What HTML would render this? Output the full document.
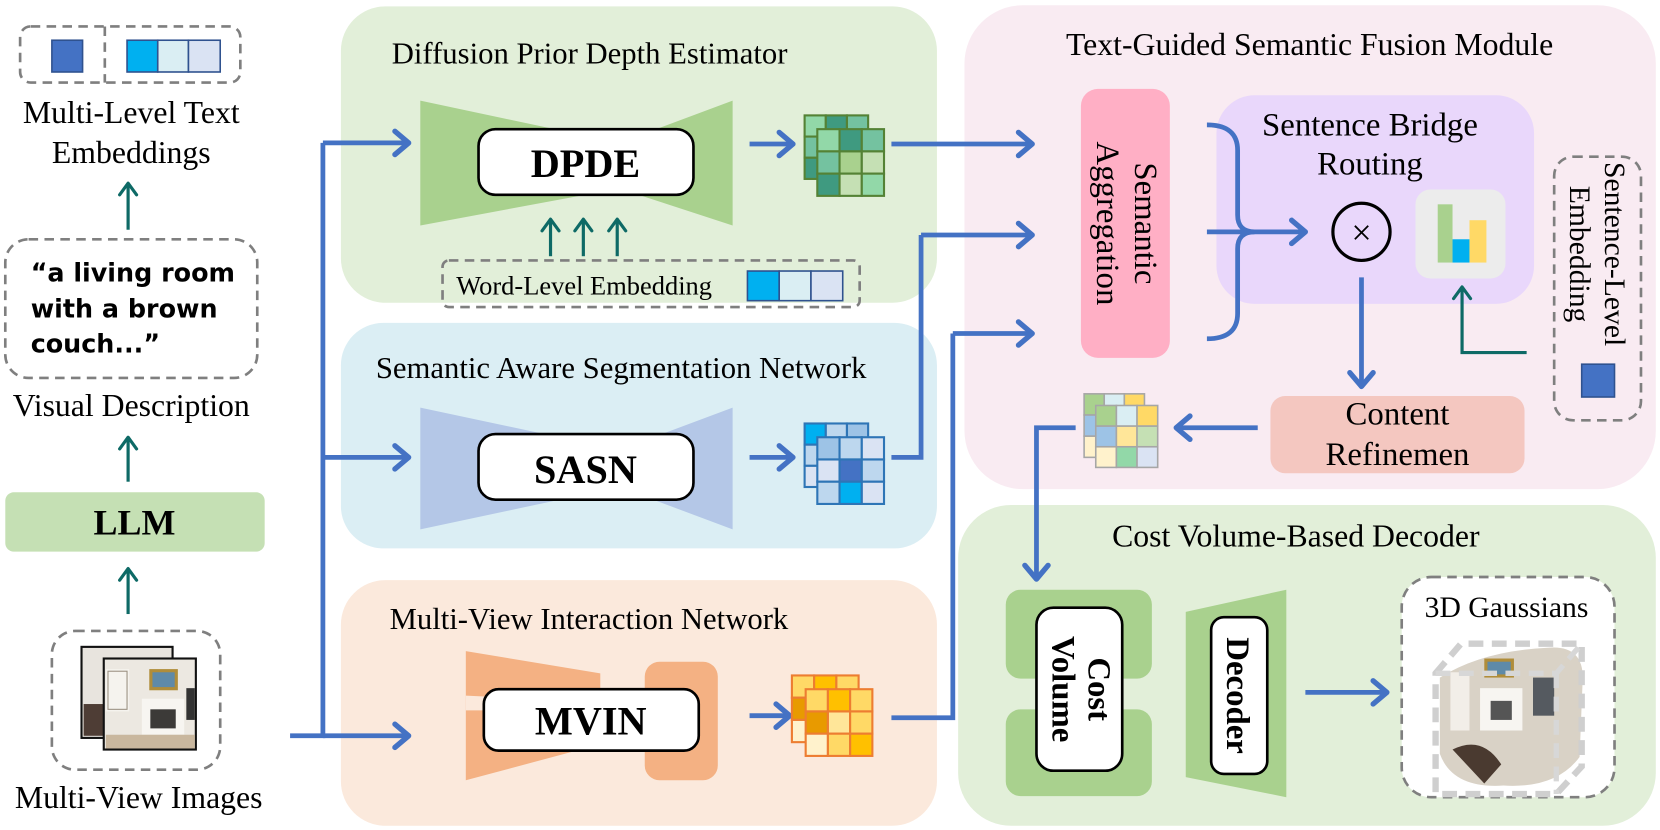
<!DOCTYPE html>
<html><head><meta charset="utf-8"><style>
html,body{margin:0;padding:0;background:#fff}
svg{display:block}
text{font-family:"Liberation Serif","Times New Roman",serif;fill:#000}
.h{font-family:"DejaVu Sans","Liberation Sans",sans-serif;font-weight:bold}
</style></head><body>
<svg width="1660" height="830" viewBox="0 0 1660 830" xmlns="http://www.w3.org/2000/svg">
<defs>
<marker id="ab" refX="0" refY="0" markerWidth="30" markerHeight="30" orient="auto" markerUnits="userSpaceOnUse" overflow="visible">
<path d="M-12,-11 L1,0 L-12,11" fill="none" stroke="#4472c4" stroke-width="5" stroke-linecap="round" stroke-linejoin="round"/>
</marker>
<marker id="at" refX="0" refY="0" markerWidth="30" markerHeight="30" orient="auto" markerUnits="userSpaceOnUse" overflow="visible">
<path d="M-10,-8 L1,0 L-10,8" fill="none" stroke="#0e6a66" stroke-width="3" stroke-linecap="round" stroke-linejoin="round"/>
</marker>
</defs>
<g transform="scale(1.0587)">

<!-- panels -->
<rect x="322" y="6" width="563" height="280" rx="42" fill="#e2efd9"/>
<rect x="322" y="305" width="563" height="213" rx="40" fill="#dbeef4"/>
<rect x="322" y="548" width="563" height="232" rx="42" fill="#fbe9dc"/>
<rect x="911" y="5" width="653" height="457" rx="55" fill="#f9ebf2"/>
<rect x="905" y="477" width="659" height="303" rx="50" fill="#e2efd9"/>

<text x="370" y="60" font-size="29">Diffusion Prior Depth Estimator</text>
<text x="355" y="357" font-size="29">Semantic Aware Segmentation Network</text>
<text x="368" y="594" font-size="29">Multi-View Interaction Network</text>
<text x="1237" y="52" font-size="30" text-anchor="middle">Text-Guided Semantic Fusion Module</text>
<text x="1224" y="516" font-size="30" text-anchor="middle">Cost Volume-Based Decoder</text>

<!-- left column -->
<rect x="19" y="25" width="208" height="53" rx="10" fill="none" stroke="#7f7f7f" stroke-width="2.5" stroke-dasharray="9,6"/>
<line x1="99" y1="25" x2="99" y2="78" stroke="#7f7f7f" stroke-width="2.5" stroke-dasharray="9,6"/>
<rect x="49" y="38" width="29" height="30" fill="#4472c4" stroke="#2f528f" stroke-width="1.5"/>
<rect x="120" y="38" width="29" height="30" fill="#00b0f0" stroke="#2f528f" stroke-width="1.5"/>
<rect x="149" y="38" width="29" height="30" fill="#daeef3" stroke="#2f528f" stroke-width="1.5"/>
<rect x="178" y="38" width="30" height="30" fill="#dae3f3" stroke="#2f528f" stroke-width="1.5"/>
<text x="124" y="116" font-size="30" text-anchor="middle">Multi-Level Text</text>
<text x="124" y="154" font-size="30" text-anchor="middle">Embeddings</text>
<line x1="121" y1="217" x2="121" y2="174" stroke="#0e6a66" stroke-width="3" marker-end="url(#at)"/>
<rect x="5" y="226" width="238" height="131" rx="22" fill="none" stroke="#7f7f7f" stroke-width="2.5" stroke-dasharray="9,6"/>
<text class="h" x="29" y="266" font-size="24">“a living room</text>
<text class="h" x="29" y="300" font-size="24">with a brown</text>
<text class="h" x="29" y="333" font-size="24">couch...”</text>
<text x="124" y="393" font-size="30" text-anchor="middle">Visual Description</text>
<line x1="121" y1="455" x2="121" y2="414" stroke="#0e6a66" stroke-width="3" marker-end="url(#at)"/>
<rect x="5" y="465" width="245" height="56" rx="8" fill="#c5e0b4"/>
<text x="127" y="505" font-size="34" font-weight="bold" text-anchor="middle">LLM</text>
<line x1="121" y1="580" x2="121" y2="538" stroke="#0e6a66" stroke-width="3" marker-end="url(#at)"/>
<rect x="49" y="596" width="159" height="131" rx="22" fill="none" stroke="#7f7f7f" stroke-width="2.5" stroke-dasharray="9,6"/>
<rect x="77" y="611" width="86" height="86" fill="#e8e4de" stroke="#111" stroke-width="2"/>
<rect x="79" y="665" width="25" height="30" fill="#4e3d35"/>
<rect x="98" y="622" width="87" height="86" fill="#ece8e1" stroke="#111" stroke-width="2"/>
<rect x="100" y="632" width="22" height="40" fill="#f5f3ee"/>
<rect x="102" y="634" width="18" height="36" fill="none" stroke="#9a8f80" stroke-width="1"/>
<rect x="141" y="632" width="27" height="20" fill="#b08d3a"/>
<rect x="144" y="635" width="21" height="14" fill="#5f8aa8"/>
<rect x="134" y="660" width="40" height="34" fill="#f7f5f1"/>
<rect x="142" y="670" width="24" height="18" fill="#3c3a38"/>
<rect x="176" y="650" width="8" height="30" fill="#333"/>
<rect x="100" y="694" width="84" height="13" fill="#c9b79e"/>
<text x="131" y="763" font-size="30" text-anchor="middle">Multi-View Images</text>

<!-- blue connectors left -->
<path d="M274,695 H305 V135" fill="none" stroke="#4472c4" stroke-width="4.5"/>
<line x1="305" y1="135" x2="385" y2="135" stroke="#4472c4" stroke-width="4.5" marker-end="url(#ab)"/>
<line x1="305" y1="432" x2="385" y2="432" stroke="#4472c4" stroke-width="4.5" marker-end="url(#ab)"/>
<line x1="305" y1="695" x2="385" y2="695" stroke="#4472c4" stroke-width="4.5" marker-end="url(#ab)"/>

<!-- DPDE -->
<polygon points="397,95 585,135 692,95 692,213 585,178 397,213" fill="#a9d18e"/>
<rect x="452" y="122" width="203" height="62" rx="16" fill="#fff" stroke="#000" stroke-width="2.5"/>
<text x="553" y="167" font-size="38" font-weight="bold" text-anchor="middle">DPDE</text>
<line x1="520" y1="242" x2="520" y2="208" stroke="#0e6a66" stroke-width="3" marker-end="url(#at)"/>
<line x1="551" y1="242" x2="551" y2="208" stroke="#0e6a66" stroke-width="3" marker-end="url(#at)"/>
<line x1="583" y1="242" x2="583" y2="208" stroke="#0e6a66" stroke-width="3" marker-end="url(#at)"/>
<rect x="418" y="246" width="394" height="44" rx="6" fill="none" stroke="#7f7f7f" stroke-width="2.5" stroke-dasharray="9,6"/>
<text x="431" y="278" font-size="25">Word-Level Embedding</text>
<rect x="706" y="256" width="30" height="28" fill="#00b0f0" stroke="#2f528f" stroke-width="1.5"/>
<rect x="736" y="256" width="30" height="28" fill="#daeef3" stroke="#2f528f" stroke-width="1.5"/>
<rect x="766" y="256" width="30" height="28" fill="#dae3f3" stroke="#2f528f" stroke-width="1.5"/>
<line x1="708" y1="136" x2="748" y2="136" stroke="#4472c4" stroke-width="4.5" marker-end="url(#ab)"/>
<g stroke="#548235" stroke-width="2" transform="translate(0,6)">
<rect x="760" y="103" width="20" height="20" fill="#92d8a8"/><rect x="780" y="103" width="20" height="20" fill="#3f9a80"/><rect x="800" y="103" width="20" height="20" fill="#74c2a0"/>
<rect x="760" y="123" width="20" height="20" fill="#74c2a0"/><rect x="760" y="143" width="20" height="20" fill="#3f9a80"/>
<rect x="772" y="116" width="21" height="21" fill="#92d8a8"/><rect x="793" y="116" width="21" height="21" fill="#3f9a80"/><rect x="814" y="116" width="21" height="21" fill="#74c2a0"/>
<rect x="772" y="137" width="21" height="21" fill="#74c2a0"/><rect x="793" y="137" width="21" height="21" fill="#a9d18e"/><rect x="814" y="137" width="21" height="21" fill="#c5e0b4"/>
<rect x="772" y="158" width="21" height="21" fill="#3f9a80"/><rect x="793" y="158" width="21" height="21" fill="#c5e0b4"/><rect x="814" y="158" width="21" height="21" fill="#92d8a8"/>
</g>

<!-- SASN -->
<polygon points="397,385 585,425 692,385 692,500 585,460 397,500" fill="#b4c7e7"/>
<rect x="452" y="410" width="203" height="62" rx="16" fill="#fff" stroke="#000" stroke-width="2.5"/>
<text x="553" y="456" font-size="38" font-weight="bold" text-anchor="middle">SASN</text>
<line x1="708" y1="432" x2="748" y2="432" stroke="#4472c4" stroke-width="4.5" marker-end="url(#ab)"/>
<g stroke="#2e75b6" stroke-width="2">
<rect x="760" y="400" width="20" height="20" fill="#00b0f0"/><rect x="780" y="400" width="20" height="20" fill="#bdd7ee"/><rect x="800" y="400" width="20" height="20" fill="#9dc3e6"/>
<rect x="760" y="420" width="20" height="20" fill="#bdd7ee"/><rect x="760" y="440" width="20" height="20" fill="#dae3f3"/>
<rect x="772" y="413" width="21" height="21" fill="#9dc3e6"/><rect x="793" y="413" width="21" height="21" fill="#bdd7ee"/><rect x="814" y="413" width="21" height="21" fill="#dae3f3"/>
<rect x="772" y="434" width="21" height="21" fill="#dae3f3"/><rect x="793" y="434" width="21" height="21" fill="#4472c4"/><rect x="814" y="434" width="21" height="21" fill="#bdd7ee"/>
<rect x="772" y="455" width="21" height="21" fill="#bdd7ee"/><rect x="793" y="455" width="21" height="21" fill="#00b0f0"/><rect x="814" y="455" width="21" height="21" fill="#dae3f3"/>
</g>
<path d="M842,432 H870 V222" fill="none" stroke="#4472c4" stroke-width="4.5"/>
<line x1="870" y1="222" x2="974" y2="222" stroke="#4472c4" stroke-width="4.5" marker-end="url(#ab)"/>

<!-- MVIN -->
<polygon points="440,615 567,636 567,703 440,737" fill="#f4b183"/>
<polygon points="440,657 480,659 480,671 440,671" fill="#fbe9dc"/>
<rect x="609" y="625" width="69" height="112" rx="14" fill="#f4b183"/>
<rect x="457" y="651" width="203" height="58" rx="14" fill="#fff" stroke="#000" stroke-width="2.5"/>
<text x="558" y="694" font-size="38" font-weight="bold" text-anchor="middle">MVIN</text>
<line x1="708" y1="676" x2="745" y2="676" stroke="#4472c4" stroke-width="4.5" marker-end="url(#ab)"/>
<g stroke="#ed7d31" stroke-width="2" transform="translate(0,3)">
<rect x="748" y="635" width="21" height="21" fill="#ffd966"/><rect x="769" y="635" width="21" height="21" fill="#ffc000"/><rect x="790" y="635" width="21" height="21" fill="#ffd966"/>
<rect x="748" y="656" width="21" height="21" fill="#e89a00"/><rect x="748" y="677" width="21" height="21" fill="#fff2cc"/>
<rect x="761" y="648" width="21" height="21" fill="#ffd966"/><rect x="782" y="648" width="21" height="21" fill="#ffc000"/><rect x="803" y="648" width="21" height="21" fill="#ffd966"/>
<rect x="761" y="669" width="21" height="21" fill="#e89a00"/><rect x="782" y="669" width="21" height="21" fill="#ffe699"/><rect x="803" y="669" width="21" height="21" fill="#ffd966"/>
<rect x="761" y="690" width="21" height="21" fill="#fff2cc"/><rect x="782" y="690" width="21" height="21" fill="#ffd966"/><rect x="803" y="690" width="21" height="21" fill="#ffc000"/>
</g>
<path d="M842,678 H900 V315" fill="none" stroke="#4472c4" stroke-width="4.5"/>
<line x1="900" y1="315" x2="974" y2="315" stroke="#4472c4" stroke-width="4.5" marker-end="url(#ab)"/>
<line x1="842" y1="136" x2="974" y2="136" stroke="#4472c4" stroke-width="4.5" marker-end="url(#ab)"/>

<!-- Fusion module -->
<rect x="1021" y="84" width="84" height="254" rx="16" fill="#ffafc5"/>
<g transform="translate(1063,211) rotate(90)">
<text x="0" y="-9" font-size="31" text-anchor="middle">Semantic</text>
<text x="0" y="27" font-size="31" text-anchor="middle">Aggregation</text>
</g>
<rect x="1149" y="90" width="300" height="197" rx="36" fill="#e9d7fb"/>
<text x="1294" y="128" font-size="31" text-anchor="middle">Sentence Bridge</text>
<text x="1294" y="165" font-size="31" text-anchor="middle">Routing</text>
<path d="M1140,118 Q1169,118 1169,142 V203 Q1169,219 1185,219 Q1169,219 1169,235 V296 Q1169,320 1140,320" fill="none" stroke="#4472c4" stroke-width="4.5"/>
<line x1="1140" y1="219" x2="1232" y2="219" stroke="#4472c4" stroke-width="4.5" marker-end="url(#ab)"/>
<circle cx="1286" cy="219" r="27" fill="none" stroke="#000" stroke-width="3"/>
<text x="1286" y="231" font-size="34" text-anchor="middle" font-family="Liberation Sans">×</text>
<rect x="1337" y="179" width="85" height="84" rx="14" fill="#ececec"/>
<rect x="1358" y="193" width="14" height="55" fill="#a9d18e"/>
<rect x="1372" y="226" width="16" height="22" fill="#00b0f0"/>
<rect x="1388" y="208" width="16" height="40" fill="#ffd966"/>
<line x1="1286" y1="262" x2="1286" y2="364" stroke="#4472c4" stroke-width="4.5" marker-end="url(#ab)"/>
<path d="M1442,333 H1381 V272" fill="none" stroke="#0e6a66" stroke-width="3" marker-end="url(#at)"/>
<rect x="1468" y="148" width="82" height="249" rx="18" fill="none" stroke="#7f7f7f" stroke-width="2.5" stroke-dasharray="9,6"/>
<g transform="translate(1508,240) rotate(90)">
<text x="0" y="-8" font-size="28" text-anchor="middle">Sentence-Level</text>
<text x="0" y="25" font-size="28" text-anchor="middle">Embedding</text>
</g>
<rect x="1494" y="344" width="31" height="31" fill="#4472c4" stroke="#2f528f" stroke-width="1.5"/>
<rect x="1200" y="374" width="240" height="73" rx="14" fill="#f4c7c0"/>
<text x="1320" y="401" font-size="31" text-anchor="middle">Content</text>
<text x="1320" y="439" font-size="31" text-anchor="middle">Refinemen</text>
<line x1="1188" y1="404" x2="1112" y2="404" stroke="#4472c4" stroke-width="4.5" marker-end="url(#ab)"/>
<g stroke="#a6a6a6" stroke-width="1.5">
<rect x="1024" y="372" width="19" height="20" fill="#a9d18e"/><rect x="1043" y="372" width="19" height="20" fill="#daeef3"/><rect x="1062" y="372" width="19" height="20" fill="#ffd966"/>
<rect x="1024" y="392" width="19" height="20" fill="#9dc3e6"/><rect x="1024" y="412" width="19" height="20" fill="#fff2cc"/>
<rect x="1035" y="383" width="19.5" height="19.5" fill="#a9d18e"/><rect x="1054.5" y="383" width="19.5" height="19.5" fill="#daeef3"/><rect x="1074" y="383" width="19.5" height="19.5" fill="#ffd966"/>
<rect x="1035" y="402.5" width="19.5" height="19.5" fill="#9dc3e6"/><rect x="1054.5" y="402.5" width="19.5" height="19.5" fill="#ffe699"/><rect x="1074" y="402.5" width="19.5" height="19.5" fill="#c5e0b4"/>
<rect x="1035" y="422" width="19.5" height="19.5" fill="#fff2cc"/><rect x="1054.5" y="422" width="19.5" height="19.5" fill="#92d8a8"/><rect x="1074" y="422" width="19.5" height="19.5" fill="#dae3f3"/>
</g>
<path d="M1016,404 H979 V546" fill="none" stroke="#4472c4" stroke-width="4.5" marker-end="url(#ab)"/>

<!-- Decoder panel -->
<rect x="950" y="557" width="138" height="84" rx="14" fill="#a9d18e"/>
<rect x="950" y="670" width="138" height="82" rx="14" fill="#a9d18e"/>
<rect x="979" y="574" width="81" height="154" rx="16" fill="#fff" stroke="#000" stroke-width="2.5"/>
<g transform="translate(1020,651) rotate(90)">
<text x="0" y="-8" font-size="31" font-weight="bold" text-anchor="middle">Cost</text>
<text x="0" y="26" font-size="31" font-weight="bold" text-anchor="middle">Volume</text>
</g>
<polygon points="1120,578 1215,557 1215,753 1120,734" fill="#a9d18e"/>
<rect x="1144" y="583" width="53" height="148" rx="12" fill="#fff" stroke="#000" stroke-width="2.5"/>
<g transform="translate(1170,657) rotate(90)">
<text x="0" y="11" font-size="31" font-weight="bold" text-anchor="middle">Decoder</text>
</g>
<line x1="1233" y1="654" x2="1309" y2="654" stroke="#4472c4" stroke-width="4.5" marker-end="url(#ab)"/>
<rect x="1324" y="545" width="201" height="208" rx="28" fill="#fff" stroke="#7f7f7f" stroke-width="2.5" stroke-dasharray="9,6"/>
<text x="1423" y="583" font-size="28" text-anchor="middle">3D Gaussians</text>
<path d="M1360,640 Q1400,615 1460,612 Q1495,608 1495,640 L1492,715 Q1470,745 1420,742 Q1372,745 1360,712 Z" fill="#d9d2c6"/>
<rect x="1370" y="635" width="18" height="55" fill="#f2eee8"/>
<rect x="1402" y="622" width="28" height="18" fill="#b08d3a"/>
<rect x="1405" y="625" width="22" height="12" fill="#5e8aa8"/>
<rect x="1398" y="650" width="40" height="40" fill="#f7f5f1"/>
<rect x="1408" y="662" width="20" height="18" fill="#555"/>
<rect x="1448" y="640" width="20" height="36" fill="#555a60"/>
<path d="M1372,708 Q1400,694 1418,722 L1402,740 Z" fill="#4a3a30"/>
<path d="M1356,636 L1380,608 H1494 V724 L1470,750 H1356 Z" fill="none" stroke="#cfcfcf" stroke-width="6" stroke-dasharray="14,8"/>
<path d="M1356,636 H1470 L1494,608 M1470,636 V750" fill="none" stroke="#d7d7d7" stroke-width="5" stroke-dasharray="14,8"/>
</g>
</svg>
</body></html>
